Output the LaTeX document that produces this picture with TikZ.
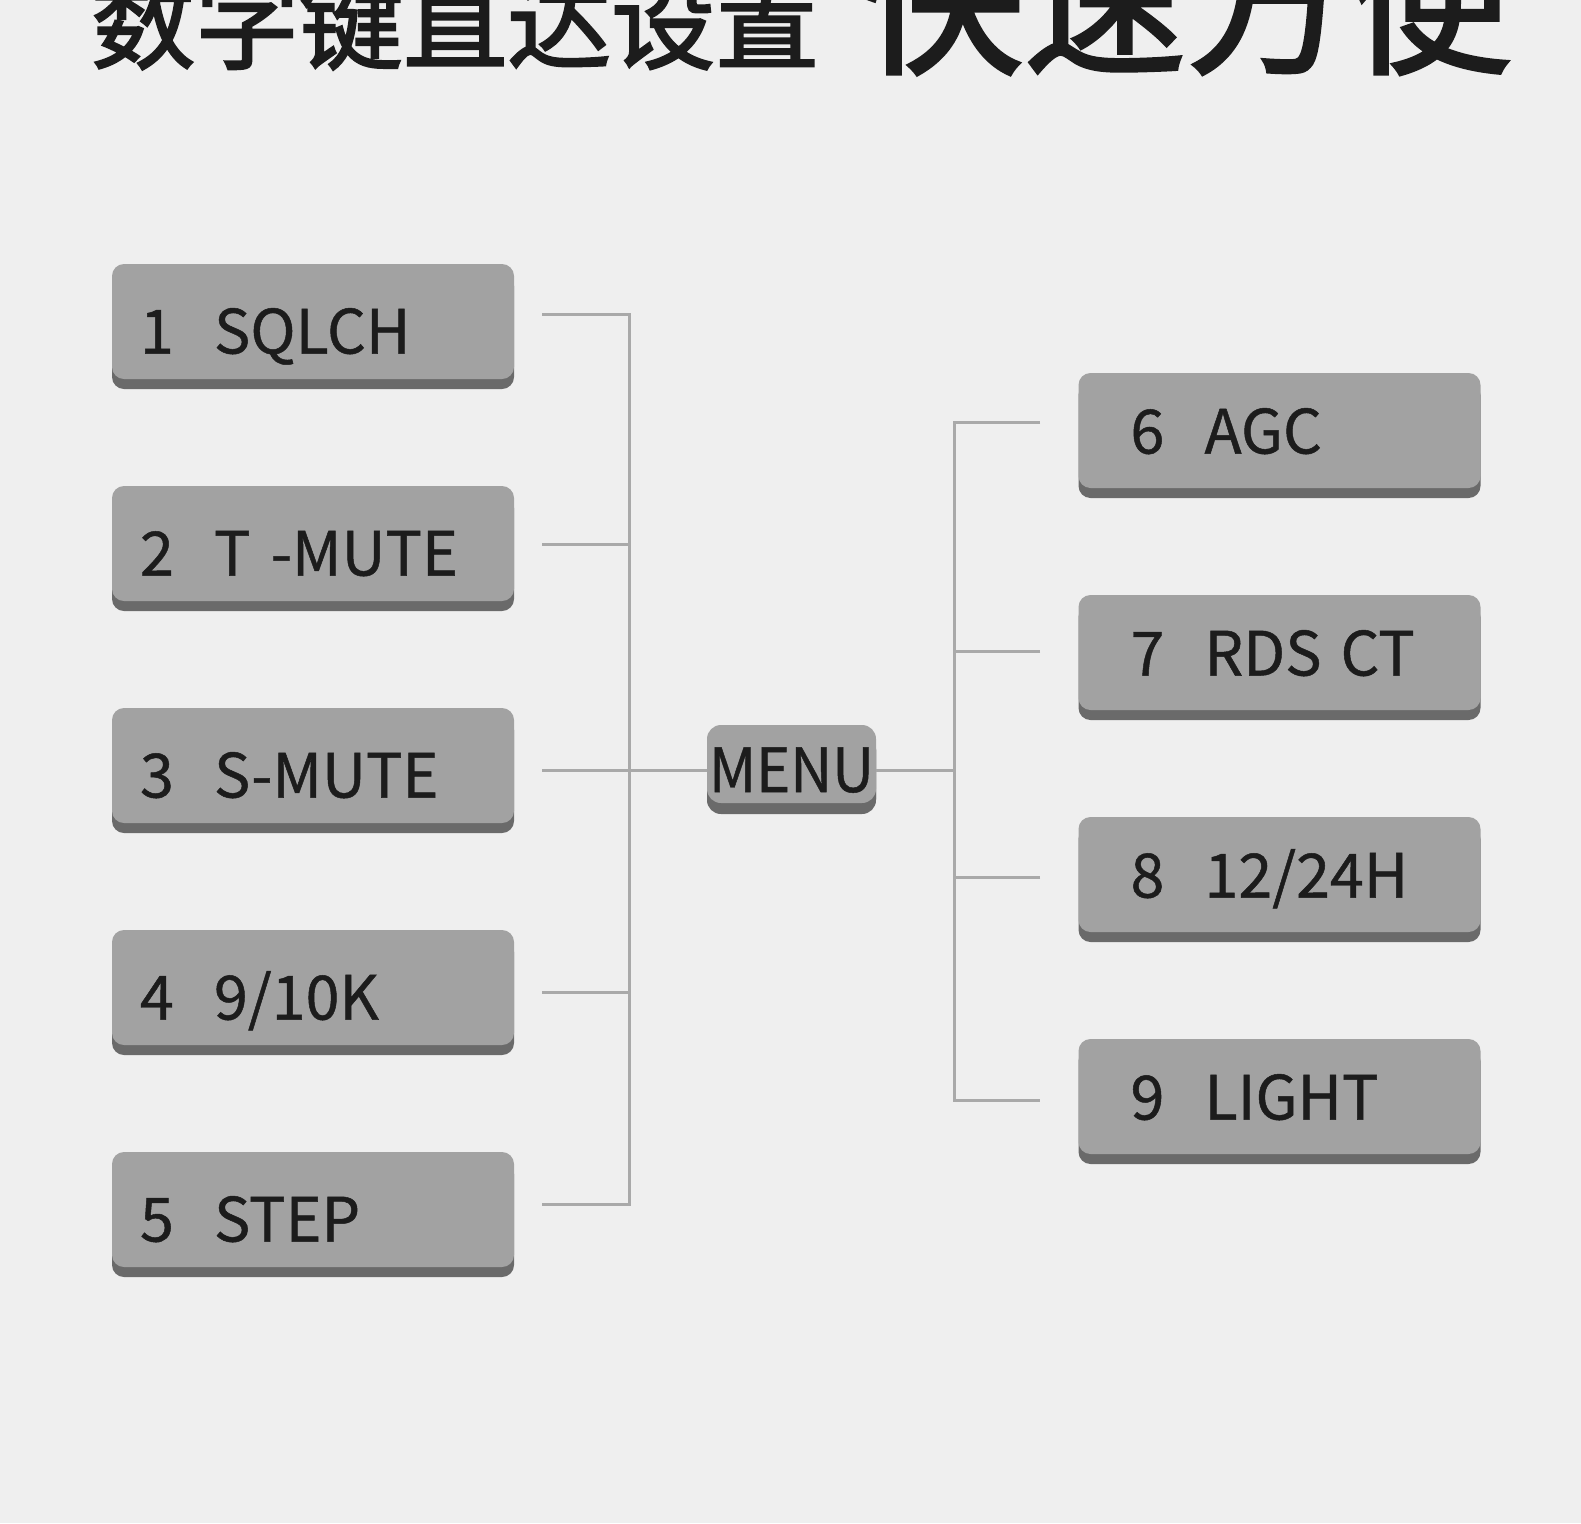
\documentclass[tikz,border=0pt]{standalone}
\usepackage{fontspec}
\setmainfont{Noto Sans CJK SC}
\newfontfamily\headfont{Noto Sans CJK SC}[FakeBold=2.2]
\newfontfamily\keyfont{Noto Sans CJK SC}[FakeBold=0.8]
\usetikzlibrary{positioning,shadows}
\definecolor{pagebg}{HTML}{EFEFEF}
\definecolor{keyface}{HTML}{A2A2A2}
\definecolor{keyshade}{HTML}{6A6A6A}
\definecolor{busline}{HTML}{A9A9A9}
\definecolor{inktext}{HTML}{1C1C1C}
\newcommand{\keytext}[2]{\makebox[74pt][l]{#1}#2}

\begin{document}
\begin{tikzpicture}[
  x=1pt, y=-1pt,
  font=\keyfont\fontsize{61}{66}\selectfont,
  keybox/.style={fill=keyface, rounded corners=12pt, inner ysep=0pt, align=left, text=inktext,
                 text height=64pt, text depth=0pt, minimum width=402pt, minimum height=115pt,
                 drop shadow={shadow xshift=0pt, shadow yshift=-10pt, fill=keyshade, opacity=1}},
  lkey/.style={keybox, inner xsep=28pt, text width=346pt},
  rkey/.style={keybox, inner xsep=52pt, text width=298pt, text height=46pt},
  menukey/.style={keybox, inner xsep=0pt, minimum width=169pt, minimum height=78pt,
                  text height=56pt, rounded corners=14pt,
                  drop shadow={shadow xshift=0pt, shadow yshift=-11pt, fill=keyshade, opacity=1}},
  bus/.style={draw=busline, line width=3pt},
  headline/.style={inner sep=0pt, anchor=base west, text=inktext}
]
\useasboundingbox (0,0) rectangle (1581,1523);
\fill[pagebg] (0,0) rectangle (1581,1523);
\clip (0,0) rectangle (1581,1523);
% ----- title (cut at the top edge) -----
\node[headline, font=\headfont\fontsize{104}{110}\selectfont] (headA) at (91,61) {数字键直达设置};
\node[headline, font=\headfont\fontsize{163}{170}\selectfont] (headB) at (860,61) {快速方便};
% ----- keys, left column -----
\foreach \n/\txt [count=\i from 0] in {1/SQLCH, 2/T -MUTE, 3/S-MUTE, 4/{9/10K}, 5/STEP}{
  \node[lkey] (k\n) at ({313},{321.5+222*\i}) {\keytext{\n}{\txt}};
}
% ----- keys, right column -----
\foreach \n/\txt [count=\i from 0] in {6/AGC, 7/{RDS\kern19pt CT}, 8/{12/24H}, 9/LIGHT}{
  \node[rkey] (k\n) at ({1279.5},{430.5+222*\i}) {\keytext{\n}{\txt}};
}
% ----- centre key -----
\node[menukey] (menu) at (791.5,764) {\scalebox{0.95}[1]{MENU}};
% ----- left bus -----
\foreach \n/\y in {1/314, 2/544.5, 3/770, 4/992, 5/1204}{\coordinate (lt\n) at (542,\y);}
\coordinate (lbus) at (629,770);
\draw[bus] (lt1) -| (lbus) |- (lt5);
\foreach \n in {2,3,4}{\draw[bus] (lt\n) -- (lt\n -| lbus);}
\draw[bus] (lbus) -- (lbus -| menu.west);
% ----- right bus -----
\foreach \n/\y in {6/422, 7/651, 8/877, 9/1100.5}{\coordinate (rt\n) at (1040,\y);}
\coordinate (rbus) at (954,770);
\draw[bus] (rt6) -| (rbus) |- (rt9);
\foreach \n in {7,8}{\draw[bus] (rt\n) -- (rt\n -| rbus);}
\draw[bus] (rbus -| menu.east) -- (rbus);
\end{tikzpicture}
\end{document}
